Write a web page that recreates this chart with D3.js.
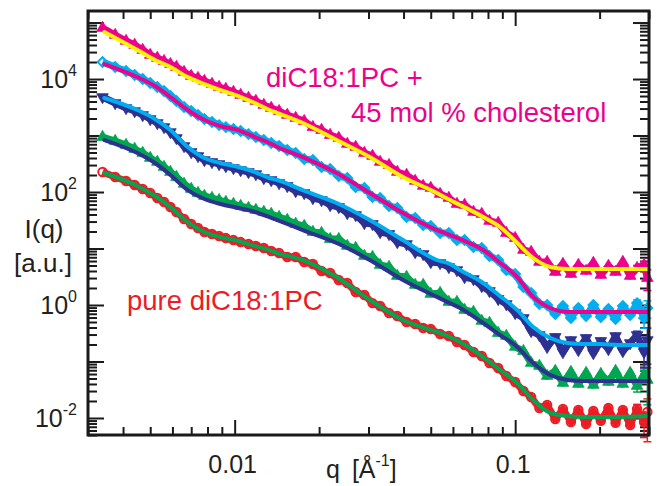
<!DOCTYPE html>
<html>
<head>
<meta charset="utf-8">
<script src="https://cdn.jsdelivr.net/npm/d3@7"></script>
<style>
  body { margin: 0; background: #fff; }
  text { font-family: "Liberation Sans", Arial, Helvetica, sans-serif; }
</style>
</head>
<body>
<div id="chart"></div>
<script>
'use strict';

// measured q values (1/Å), shared by all five curves
const qData = [0.00338, 0.00375, 0.0041, 0.0044, 0.0047, 0.0050, 0.0053, 0.0056, 0.0059, 0.0062,
  0.0066, 0.0070, 0.0074, 0.0078, 0.0083, 0.0088, 0.0093, 0.0099, 0.0105, 0.0112,
  0.0119, 0.0127, 0.0135, 0.0144, 0.0154, 0.0165, 0.0177, 0.019, 0.0204, 0.0219,
  0.0235, 0.0252, 0.027, 0.029, 0.031, 0.033, 0.0355, 0.038, 0.041, 0.044,
  0.047, 0.050, 0.054, 0.058, 0.062, 0.066, 0.071, 0.076, 0.081, 0.087,
  0.093, 0.100, 0.107, 0.114, 0.122, 0.130, 0.139, 0.148, 0.158, 0.168,
  0.179, 0.190, 0.202, 0.215, 0.228, 0.242, 0.257, 0.272, 0.288, 0.296];

// 45 mol % cholesterol (top) ... pure diC18:1PC (bottom)
const s1Data = [80000, 60100, 47100, 40000, 32600, 26600, 23600, 20800, 18400, 16300,
  13300, 11300, 10400, 9220, 8160, 7220, 6650, 5890, 5210, 4610,
  4080, 3470, 3070, 2710, 2310, 2040, 1800, 1410, 1250, 1020,
  903, 707, 626, 490, 434, 340, 300, 226, 200, 157,
  128, 118, 92.2, 78.3, 61.3, 58.9, 44.3, 40.8, 30.7, 28.3,
  18.8, 15.3, 9.41, 8.67, 5.77, 5.77, 3.84, 5.32, 3.54, 5.10,
  4.0, 5.54, 3.40, 4.90, 3.84, 5.77, 3.26, 4.52, 5.10, 3.0];
const s2Data = [20000, 16300, 13900, 11800, 10000, 8490, 7220, 6130, 5000, 4080,
  3190, 2710, 2310, 1960, 1730, 1530, 1410, 1300, 1200, 1060,
  940, 832, 737, 652, 554, 490, 384, 368, 277, 255,
  192, 177, 122, 118, 81.6, 78.3, 56.5, 52.1, 36.1, 34.7,
  26.1, 25.0, 18.8, 18.8, 14.1, 14.1, 10.6, 10.2, 7.36, 6.26,
  4.16, 3.54, 2.08, 1.63, 1.04, 1.0, 0.693, 0.960, 0.589, 0.885,
  0.639, 1.0, 0.613, 0.849, 0.565, 0.960, 0.665, 1.08, 0.589, 0.885];
const s3Data = [4800, 3760, 3070, 2710, 2310, 1960, 1665, 1410, 1150, 903,
  652, 511, 434, 368, 340, 313, 288, 266, 245, 226,
  208, 177, 163, 144, 128, 104, 96, 78.3, 72.0, 58.9,
  54.3, 42.5, 39.2, 28.3, 27.2, 19.6, 18.1, 13.0, 12.0, 8.67,
  8.0, 5.77, 5.54, 4.71, 4.16, 3.13, 2.88, 2.17, 1.77, 1.28,
  1.04, 0.722, 0.589, 0.347, 0.294, 0.181, 0.272, 0.147, 0.240, 0.160,
  0.261, 0.141, 0.231, 0.166, 0.283, 0.153, 0.212, 0.294, 0.147, 0.240];
const s4Data = [940, 800, 679, 577, 490, 400, 340, 277, 226, 184,
  139, 113, 96, 85, 78.3, 72.0, 66.5, 61.3, 56.5, 52.1,
  48.0, 44.3, 40.8, 36.1, 31.9, 27.2, 25.0, 19.6, 18.8, 14.7,
  14.7, 11.1, 10.2, 7.36, 7.07, 5.10, 4.71, 3.26, 3.13, 2.26,
  2.26, 1.57, 1.63, 1.13, 1.13, 0.816, 0.752, 0.521, 0.480, 0.319,
  0.283, 0.181, 0.153, 0.094, 0.0832, 0.0553, 0.0679, 0.0416, 0.0652, 0.040,
  0.0626, 0.0384, 0.0601, 0.0434, 0.0679, 0.040, 0.0626, 0.0368, 0.0577, 0.0471];
const s5Data = [226, 184, 157, 133, 113, 96, 78.3, 66.5, 54.3, 44.3,
  33.3, 27.2, 23.1, 19.6, 18.1, 16.6, 15.3, 14.1, 13.0, 12.0,
  11.1, 10.2, 9.03, 8.32, 7.07, 7.07, 5.77, 5.32, 4.0, 3.68,
  2.77, 2.45, 1.70, 1.50, 1.08, 0.960, 0.722, 0.639, 0.500, 0.461,
  0.392, 0.376, 0.307, 0.283, 0.221, 0.196, 0.147, 0.125, 0.094, 0.0767,
  0.0553, 0.0434, 0.030, 0.0235, 0.0150, 0.0170, 0.0096, 0.0144, 0.0085, 0.0139,
  0.0078, 0.0133, 0.0089, 0.0150, 0.0082, 0.0139, 0.0075, 0.0144, 0.0085, 0.0128];

// error bars on the last few points of each curve
const s1Err = [0.5, 0.8, 1.2];
const s2Err = [0.15, 0.2, 0.3];
const s3Err = [0.05, 0.07, 0.15];
const s4Err = [0.008, 0.012, 0.03];
const s5Err = [0.003, 0.004, 0.009];

// model fits
const qFit = [0.00343, 0.0045, 0.0052, 0.0059, 0.0068, 0.0078, 0.0089, 0.0103, 0.0118, 0.0133,
  0.0142, 0.0175, 0.0231, 0.0303, 0.0398, 0.0526, 0.0586, 0.0636, 0.0769, 0.0884,
  0.1017, 0.1159, 0.1334, 0.1534, 0.1749, 0.2012, 0.2315, 0.296];
const s1Fit = [67900, 32600, 21700, 16300, 10800, 8160, 6390, 5000, 3760, 2830,
  2500, 1665, 832, 416, 184, 96, 72, 58.9, 36.1, 24.0,
  12.5, 6.79, 4.71, 4.34, 4.34, 4.34, 4.34, 4.34];
const s2Fit = [18400, 10800, 7520, 4800, 2830, 1880, 1470, 1250, 940, 737,
  626, 416, 217, 96, 42.5, 21.2, 17.3, 14.7, 9.4, 5.54,
  3.13, 1.39, 0.885, 0.752, 0.752, 0.752, 0.752, 0.752];
const s3Fit = [4610, 2830, 1960, 1250, 626, 400, 326, 277, 226, 177,
  163, 108, 63.9, 31.9, 14.1, 6.26, 5.32, 4.16, 2.45, 1.44,
  0.816, 0.408, 0.261, 0.212, 0.204, 0.204, 0.196, 0.196];
const s4Fit = [832, 490, 326, 200, 108, 75.2, 61.3, 52.1, 44.3, 36.1,
  31.9, 21.2, 12.5, 6.26, 2.77, 1.39, 1.08, 0.885, 0.480, 0.294,
  0.181, 0.094, 0.0577, 0.0471, 0.0452, 0.0452, 0.0452, 0.0452];
const s5Fit = [217, 128, 85, 54.3, 29.4, 19.6, 16.0, 13.6, 11.1, 9.4,
  8.32, 6.26, 3.13, 1.23, 0.543, 0.333, 0.272, 0.221, 0.120, 0.0707,
  0.0416, 0.0208, 0.0123, 0.0108, 0.0104, 0.0104, 0.0104, 0.0108];

const xTickValues = [0.01, 0.1];
const xTickLabels = ['0.01', '0.1'];
const yTickValues = [1e-2, 1, 1e2, 1e4];
const yTickExps = ['-2', '0', '2', '4'];

const MAGENTA = '#ec008c', CYAN = '#00aeef', NAVY = '#2e3192',
      GREEN = '#00a651', RED = '#ed1c24', YELLOW = '#fff200';

const series = [
  { data: s5Data, fit: s5Fit, err: s5Err, color: RED, fitColor: GREEN, marker: 'circle' },
  { data: s4Data, fit: s4Fit, err: s4Err, color: GREEN, fitColor: NAVY, marker: 'up' },
  { data: s3Data, fit: s3Fit, err: s3Err, color: NAVY, fitColor: CYAN, marker: 'down' },
  { data: s2Data, fit: s2Fit, err: s2Err, color: CYAN, fitColor: MAGENTA, marker: 'diamond' },
  { data: s1Data, fit: s1Fit, err: s1Err, color: MAGENTA, fitColor: YELLOW, marker: 'up' }
];

const W = 660, H = 486;
const m = { left: 88, right: 11, top: 11, bottom: 51 };

let x = d3.scaleLog().domain([0.003, 0.3]).range([m.left, W - m.right]);
let y = d3.scaleLog().domain([0.005, 1.6e5]).range([H - m.bottom, m.top]);

let svg = d3.select('#chart').append('svg')
            .attr('width', W).attr('height', H);

// log ticks: majors at decades, minors at 2..9
function logTicks(scale) {
    let [lo, hi] = scale.domain();
    let major = [], minor = [];
    for (let e = Math.floor(Math.log10(lo)); e <= Math.ceil(Math.log10(hi)); e++) {
        for (let k = 1; k <= 9; k++) {
            let v = k * Math.pow(10, e);
            if (v < lo * 0.999 || v > hi * 1.001) continue;
            (k === 1 ? major : minor).push(v);
        }
    }
    return { major, minor };
}
let xt = logTicks(x), yt = logTicks(y);

function drawAxis(axisFn, scale, vals, size, transform) {
    let g = svg.append('g').attr('transform', transform)
               .call(axisFn(scale).tickValues(vals).tickSize(size).tickSizeOuter(0).tickFormat(''));
    g.select('.domain').remove();
    g.selectAll('.tick line').attr('stroke', '#1a1a1a').attr('stroke-width', 2);
}
const bottomY = H - m.bottom, rightX = W - m.right;
drawAxis(d3.axisBottom, x, xt.minor, -8, `translate(0,${bottomY})`);
drawAxis(d3.axisBottom, x, xt.major, -15, `translate(0,${bottomY})`);
drawAxis(d3.axisTop, x, xt.minor, -8, `translate(0,${m.top})`);
drawAxis(d3.axisTop, x, xt.major, -15, `translate(0,${m.top})`);
drawAxis(d3.axisLeft, y, yt.minor, -9, `translate(${m.left},0)`);
drawAxis(d3.axisLeft, y, yt.major, -16, `translate(${m.left},0)`);
drawAxis(d3.axisRight, y, yt.minor, -9, `translate(${rightX},0)`);
drawAxis(d3.axisRight, y, yt.major, -16, `translate(${rightX},0)`);

// curves
let sym = {
    up: d3.symbol().type(d3.symbolTriangle).size(58),
    down: d3.symbol().type(d3.symbolTriangle).size(58),
    diamond: d3.symbol().type(d3.symbolSquare).size(46),
    circle: d3.symbol().type(d3.symbolCircle).size(56)
};
let dataLine = d3.line().x(d => x(d[0])).y(d => y(d[1]));
let fitLine = d3.line().x(d => x(d[0])).y(d => y(d[1])).curve(d3.curveMonotoneX);

series.forEach(s => {
    let pts = qData.map((q, i) => [q, s.data[i]]);
    let g = svg.append('g');

    // error bars on the tail
    let n0 = pts.length - s.err.length;
    s.err.forEach((e, k) => {
        let [q, v] = pts[n0 + k];
        let px = x(q), y0 = y(Math.max(v - e, 1e-4)), y1 = y(v + e);
        g.append('line').attr('x1', px).attr('x2', px).attr('y1', y0).attr('y2', y1)
         .attr('stroke', s.color).attr('stroke-width', 1.5);
        [y0, y1].forEach(yy => g.append('line').attr('x1', px - 4).attr('x2', px + 4)
         .attr('y1', yy).attr('y2', yy).attr('stroke', s.color).attr('stroke-width', 1.5));
    });

    g.append('path').attr('d', dataLine(pts))
     .attr('fill', 'none').attr('stroke', s.color).attr('stroke-width', 7)
     .attr('stroke-linejoin', 'round');

    let open = s.marker === 'circle' || s.marker === 'diamond';
    g.selectAll('path.pt').data(pts).enter().append('path')
     .attr('class', 'pt')
     .attr('d', sym[s.marker])
     .attr('transform', d => {
         let r = s.marker === 'down' ? 180 : (s.marker === 'diamond' ? 45 : 0);
         return `translate(${x(d[0])},${y(d[1])}) rotate(${r})`;
     })
     .attr('fill', open ? 'none' : s.color)
     .attr('stroke', s.color)
     .attr('stroke-width', open ? 2 : 0.8);

    g.append('path').attr('d', fitLine(qFit.map((q, i) => [q, s.fit[i]])))
     .attr('fill', 'none').attr('stroke', s.fitColor).attr('stroke-width', 4)
     .attr('stroke-linecap', 'round');
});

// frame
svg.append('rect')
   .attr('x', m.left).attr('y', m.top)
   .attr('width', W - m.left - m.right).attr('height', H - m.top - m.bottom)
   .attr('fill', 'none').attr('stroke', '#1a1a1a').attr('stroke-width', 3);

// tick labels
xTickValues.forEach((v, i) => {
    svg.append('text').attr('x', x(v) - 2).attr('y', 473)
       .attr('text-anchor', 'middle').attr('font-size', 25).attr('fill', '#231f20')
       .text(xTickLabels[i]);
});
yTickValues.forEach((v, i) => {
    let t = svg.append('text').attr('x', 77).attr('y', y(v) + 9)
               .attr('text-anchor', 'end').attr('font-size', 25).attr('fill', '#231f20');
    t.append('tspan').text('10');
    t.append('tspan').attr('dy', -12).attr('font-size', 16).text(yTickExps[i]);
});

// axis titles
let xt2 = svg.append('text').attr('x', 326).attr('y', 478)
             .attr('font-size', 25).attr('fill', '#231f20');
xt2.append('tspan').text('q');
xt2.append('tspan').attr('dx', 12).text('[Å');
xt2.append('tspan').attr('dy', -12).attr('font-size', 16).text('-1');
xt2.append('tspan').attr('dy', 12).text(']');

svg.append('text').attr('x', 44).attr('y', 238).attr('text-anchor', 'middle')
   .attr('font-size', 26).attr('fill', '#231f20').text('I(q)');
svg.append('text').attr('x', 43).attr('y', 272).attr('text-anchor', 'middle')
   .attr('font-size', 26).attr('fill', '#231f20').text('[a.u.]');

// annotations
svg.append('text').attr('x', 266).attr('y', 87).attr('font-size', 27.5)
   .attr('fill', MAGENTA).text('diC18:1PC +');
svg.append('text').attr('x', 351).attr('y', 122).attr('font-size', 27.5)
   .attr('fill', MAGENTA).text('45 mol % cholesterol');
svg.append('text').attr('x', 127).attr('y', 310).attr('font-size', 27.5)
   .attr('fill', RED).text('pure diC18:1PC');
</script>
</body>
</html>
